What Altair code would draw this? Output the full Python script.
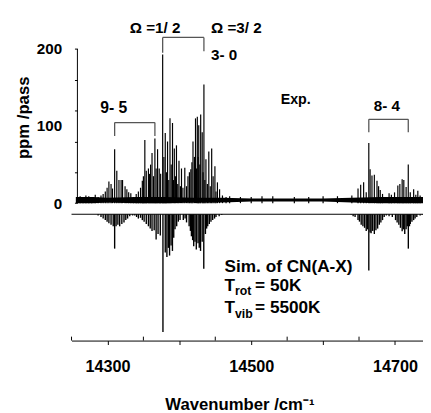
import altair as alt
import pandas as pd

FONT = "Liberation Sans"

# Experimental spectrum: stick positions (cm-1) and heights (ppm/pass)
exp_x = [14262, 14266, 14270, 14274, 14278, 14283,
         14287, 14291, 14294, 14297, 14299.5, 14302, 14305, 14307, 14310, 14313, 14316, 14319, 14321,
         14324.5, 14327, 14329.5, 14332.5, 14336, 14340, 14343, 14346, 14348.5, 14350, 14352, 14354,
         14357, 14358.5, 14360, 14362, 14364, 14366, 14367.7, 14369.7, 14372, 14374,
         14376.8, 14378.5, 14380.4, 14382, 14383.6, 14385.3, 14387, 14388.7, 14390.5, 14392, 14393,
         14394.5, 14396, 14397.8, 14399.5, 14401.5, 14403, 14405, 14407.6, 14410, 14412, 14414, 14416,
         14417.5, 14419, 14421, 14422.5, 14424, 14425, 14426.2, 14427, 14428.5, 14429.7, 14431.8, 14433,
         14434.2, 14435.5, 14437, 14439, 14441, 14443, 14445, 14447, 14449.5, 14451, 14453, 14456, 14460, 14465,
         14470, 14485, 14500, 14515, 14530, 14560, 14580, 14600, 14620, 14640,
         14648.6, 14652.3, 14656.4, 14660, 14663.6, 14665.4, 14668, 14671.3, 14675, 14677.2, 14679.5,
         14682.7, 14691.8, 14695, 14699.4, 14704, 14706.8, 14710, 14712.3, 14715.5, 14718.5, 14721.3,
         14726, 14729, 14731.8, 14735]
exp_y = [9, 8, 10, 9, 8, 11,
         8, 10, 12, 15, 20, 28, 25, 19, 70, 42, 30, 30, 30,
         22, 18, 14, 13, 8, 12, 15, 20, 29, 35, 82, 42,
         45, 38, 50, 65, 35, 84, 45, 70, 45, 38,
         193, 60, 91, 40, 80, 30, 110, 50, 104, 30, 71,
         35, 75, 25, 55, 22, 45, 20, 46, 22, 35, 40, 44,
         53, 80, 60, 110, 45, 112, 60, 101, 50, 115, 92, 40,
         154, 30, 57, 25, 67, 22, 71, 35, 48, 15, 27, 18, 10, 8,
         9, 8, 8, 9, 9, 8, 8, 9, 9, 10,
         19, 24, 27, 14, 78, 44, 36, 37, 29, 22, 17,
         12, 13, 11, 14, 23, 25, 31, 30, 21, 50, 14,
         18, 11, 16, 10]

# Experimental baseline noise envelope
noise_x = [14256, 14280, 14300, 14340, 14380, 14420, 14460, 14500, 14550, 14600, 14640, 14680, 14720, 14739]
noise_hi = [8, 8, 7, 8, 8, 7, 7, 6, 6, 6, 7, 8, 8, 8]
noise_lo = [0, 0, 1, 0, 0, 1, 1, 2, 2, 2, 1, 0, 0, 0]

# Simulated spectrum (drawn downward from an offset baseline)
sim_base = -14.4
sim_x = [14287, 14291, 14294, 14297, 14299.5, 14302, 14305, 14308, 14310, 14312, 14314.5, 14317, 14320,
         14323, 14325.5, 14328, 14331, 14335, 14338, 14340.5, 14343, 14346, 14348.5, 14351, 14354, 14357,
         14359.5, 14362, 14365, 14367.7, 14370.4, 14373.5, 14377.2, 14380.4, 14382.7, 14384.7, 14386.4,
         14388.5, 14390.4, 14392.2, 14394, 14396.3, 14398.6, 14401, 14405.5, 14408, 14410, 14413.6,
         14415.4, 14416.8, 14418.5, 14420, 14421.8, 14423.6, 14426, 14427.7, 14429.5, 14431.8, 14434,
         14436.3, 14438, 14439.5, 14441.7, 14444, 14446.4, 14449, 14451, 14455.4, 14459,
         14639, 14641.8, 14644.5, 14648.6, 14650.6, 14653, 14655.4, 14657.7, 14660, 14661.8, 14663.6,
         14665.4, 14666.8, 14669, 14671.3, 14673.5, 14675.9, 14678.2, 14680.4, 14682.7, 14685, 14688,
         14691.8, 14696.3, 14700.8, 14703, 14705.4, 14707.6, 14710, 14711.7, 14713.6, 14715.5, 14717.2,
         14718.6, 14720.2, 14721.3, 14723.6, 14726, 14728, 14730.4, 14735, 14738]
sim_y = [-16, -18, -20, -22, -24, -26, -28, -30, -59, -30, -28, -30, -27,
         -25, -22, -20, -17, -16, -16, -18, -20, -19, -22, -24, -27, -30,
         -33, -36, -35, -47, -40, -42, -167, -64, -70, -58, -68,
         -55, -62, -45, -34, -30, -24, -22, -22, -20, -25, -30,
         -36, -43, -48, -56, -50, -60, -52, -58, -62, -50, -85,
         -40, -33, -30, -27, -24, -22, -20, -18, -17, -15.5,
         -15, -17, -18, -22, -24, -28, -30, -32, -36, -34, -87.5,
         -38, -39, -36, -40, -35, -33, -28, -25, -22, -18, -16,
         -17, -18, -22, -25, -28, -32, -36.5, -34, -40, -34, -30,
         -59, -30, -27, -24, -22, -20, -18, -16, -15]

# Brackets (x, x2, y, y2)
br_x = [14310, 14310, 14366, 14376.8, 14376.8, 14434.2, 14663.6, 14663.6, 14718.5]
br_x2 = [14366, 14310, 14366, 14434.2, 14376.8, 14434.2, 14718.5, 14663.6, 14718.5]
br_y = [104.5, 87, 87, 215, 195, 197, 108.7, 92, 92]
br_y2 = [104.5, 104.5, 104.5, 215, 215, 215, 108.7, 108.7, 108.7]

# Annotations (left aligned)
ann_text = ["Ω =1/ 2", "Ω =3/ 2", "3- 0", "9- 5", "Exp.", "8- 4", "Sim. of CN(A-X)",
            "T", "rot", "= 50K", "T", "vib", "= 5500K"]
ann_x = [14331, 14444, 14444, 14290, 14541, 14670.4, 14463,
         14463, 14477.4, 14505.4, 14463, 14477.4, 14505.4]
ann_y = [226.8, 226.8, 191.5, 122.7, 133.8, 126, -82.8,
         -107, -114.6, -107, -136.3, -144, -136.3]
ann_size = [15.5, 15.5, 15.5, 16, 14.5, 15.5, 17.5, 17.5, 12.5, 17.5, 17.5, 12.5, 17.5]

x_ticks = [14300, 14400, 14500, 14600, 14700]
x_minor = [14250, 14350, 14450, 14550, 14650]
y_ticks = [0, 40, 80, 100, 120, 160, 200]

XDOM = [14250, 14739]
YDOM = [-178.3, 240]
xs = alt.Scale(domain=XDOM, nice=False, zero=False)
ys = alt.Scale(domain=YDOM, nice=False, zero=False)

exp_df = pd.DataFrame({"x": exp_x, "y2": exp_y, "y": 0})
noise_df = pd.DataFrame({"x": noise_x, "y": noise_lo, "hi": noise_hi})
sim_df = pd.DataFrame({"x": sim_x, "y2": sim_y, "y": sim_base})
br_df = pd.DataFrame({"x": br_x, "x2": br_x2, "y": br_y, "y2": br_y2})
ann_df = pd.DataFrame({"t": ann_text, "x": ann_x, "y": ann_y, "s": ann_size})
minor_df = pd.DataFrame({"x": x_minor, "y": YDOM[0], "y2": YDOM[0] + 5.1})
yline_df = pd.DataFrame({"y": [0], "y2": [200]})
simbase_df = pd.DataFrame({"x": [XDOM[0]], "x2": [XDOM[1]], "y": [sim_base]})

x_axis = alt.Axis(values=x_ticks, format="d",
                  labelExpr="datum.value % 200 === 100 ? datum.label : ''",
                  tickSize=4, tickColor="black", domainColor="black", domainWidth=1,
                  labelFont=FONT, labelFontSize=16.5, labelFontWeight="bold", labelColor="black",
                  labelPadding=14, grid=False,
                  title="Wavenumber /cm⁻¹", titleFont=FONT, titleFontSize=17, titleFontWeight="bold",
                  titleColor="black", titlePadding=23, titleX=171)
y_axis = alt.Axis(values=y_ticks, offset=-6, domain=False,
                  labelExpr="datum.value % 100 === 0 ? datum.label : ''",
                  tickSize=3, tickColor="black",
                  tickOpacity={"condition": {"test": "datum.value === 100", "value": 0}, "value": 1},
                  labelFont=FONT, labelFontSize=15.5, labelFontWeight="bold", labelColor="black",
                  labelPadding=13, grid=False,
                  title="ppm /pass", titleFont=FONT, titleFontSize=17, titleFontWeight="bold",
                  titleColor="black", titleAngle=270, titleBaseline="middle",
                  titleX=-55, titleY=101)


def X():
    return alt.X("x:Q", scale=xs, axis=x_axis)


def Y():
    return alt.Y("y:Q", scale=ys, axis=y_axis)


base_layer = alt.Chart(simbase_df).mark_rule(color="black", strokeWidth=1).encode(
    x=X(), x2="x2:Q", y=Y())
sim_layer = alt.Chart(sim_df).mark_rule(color="black", strokeWidth=1.4).encode(
    x=X(), y=Y(), y2="y2:Q")
noise_layer = alt.Chart(noise_df).mark_area(color="black", opacity=1).encode(
    x=X(), y=Y(), y2="hi:Q")
exp_layer = alt.Chart(exp_df).mark_rule(color="black", strokeWidth=1.2).encode(
    x=X(), y=Y(), y2="y2:Q")
br_layer = alt.Chart(br_df).mark_rule(color="#555555", strokeWidth=1.3).encode(
    x=X(), x2="x2:Q", y=Y(), y2="y2:Q")
minor_layer = alt.Chart(minor_df).mark_rule(color="black", strokeWidth=1).encode(
    x=X(), y=Y(), y2="y2:Q")
yline_layer = alt.Chart(yline_df).mark_rule(color="black", strokeWidth=1).encode(
    x=alt.value(6), y=Y(), y2="y2:Q")
ann_layer = alt.Chart(ann_df).mark_text(align="left", baseline="middle", font=FONT,
                                        fontWeight="bold", color="black").encode(
    x=X(), y=Y(), text="t:N", size=alt.Size("s:Q", scale=None, legend=None))

chart = alt.layer(base_layer, sim_layer, noise_layer, exp_layer, br_layer, minor_layer,
                  yline_layer, ann_layer).properties(
    width=358, height=328.4,
    autosize=alt.AutoSizeParams(type="none"),
    padding={"left": 64.7, "top": 6.6, "right": 0, "bottom": 70},
    background="white",
).configure_view(strokeWidth=0)

chart.save("out.html", embed_options={"renderer": "svg", "actions": False})
